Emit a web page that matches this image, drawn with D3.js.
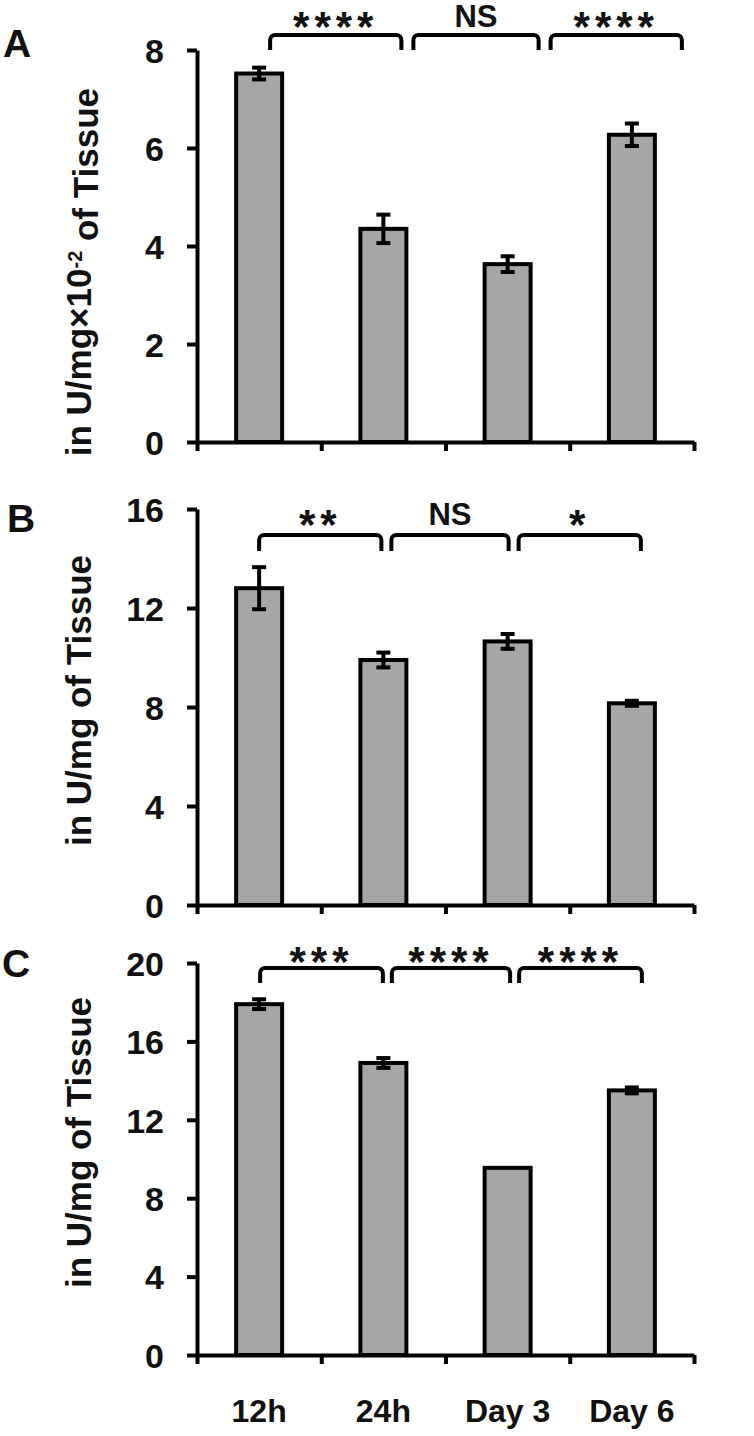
<!DOCTYPE html>
<html>
<head>
<meta charset="utf-8">
<script src="https://cdn.jsdelivr.net/npm/d3@7"></script>
<style>
  html, body { margin: 0; padding: 0; background: #fff; }
  svg { display: block; }
  text { font-family: "Liberation Sans", Arial, sans-serif; font-weight: bold; fill: #111; }
</style>
</head>
<body>
<div id="chart"></div>
<script>
// ---- data ----
const categories = ['12h', '24h', 'Day 3', 'Day 6'];

const valuesA = [7.52, 4.35, 3.63, 6.27];
const errorsA = [0.12, 0.29, 0.16, 0.23];
const ticksA = [0, 2, 4, 6, 8];
const sigA = ['****', 'NS', '****'];

const valuesB = [12.8, 9.9, 10.65, 8.15];
const errorsB = [0.85, 0.3, 0.3, 0.1];
const ticksB = [0, 4, 8, 12, 16];
const sigB = ['**', 'NS', '*'];

const valuesC = [17.9, 14.9, 9.55, 13.5];
const errorsC = [0.25, 0.25, 0, 0.15];
const ticksC = [0, 4, 8, 12, 16, 20];
const sigC = ['***', '****', '****'];

const letters = ['A', 'B', 'C'];

// ---- layout (pixels) ----
const width = 754, height = 1436;
const xLeft = 197, xRight = 694;
const panels = [
  { letter: letters[0], values: valuesA, errors: errorsA, ticks: ticksA, sig: sigA,
    top: 50, bottom: 442, labelY: 57, labelX: 3, titleEnd: 88,
    brTop: 35, brLeg: 50, brStart: 11, brEnd: 50, brGap: 12, textGap: 8, sup: true },
  { letter: letters[1], values: valuesB, errors: errorsB, ticks: ticksB, sig: sigB,
    top: 509, bottom: 905, labelY: 532, labelX: 7, titleEnd: 555,
    brTop: 535, brLeg: 551, brStart: 0, brEnd: 9, brGap: 10, textGap: 10, sup: false },
  { letter: letters[2], values: valuesC, errors: errorsC, ticks: ticksC, sig: sigC,
    top: 963, bottom: 1355, labelY: 977, labelX: 2, titleEnd: 997,
    brTop: 968, brLeg: 983, brStart: 1, brEnd: 10, brGap: 9, textGap: 6, sup: false }
];

const svg = d3.select('#chart').append('svg')
  .attr('width', width)
  .attr('height', height);

const x = d3.scaleBand()
  .domain(categories)
  .range([xLeft, xRight])
  .paddingInner(0)
  .paddingOuter(0);
const xEdge = d3.scaleLinear().domain([0, categories.length]).range([xLeft, xRight]);
const barW = 46;

panels.forEach((p) => {
  const yMax = p.ticks[p.ticks.length - 1];
  const y = d3.scaleLinear().domain([0, yMax]).range([p.bottom, p.top]);
  const g = svg.append('g').attr('class', 'panel-' + p.letter);

  // bars
  g.selectAll('rect.bar')
    .data(p.values)
    .enter()
    .append('rect')
      .attr('class', 'bar')
      .attr('x', (d, i) => x(categories[i]) + x.bandwidth() / 2 - barW / 2)
      .attr('y', d => y(d))
      .attr('width', barW)
      .attr('height', d => y(0) - y(d))
      .style('fill', '#a6a6a6')
      .style('stroke', '#000')
      .style('stroke-width', 4);

  // error bars
  const eb = g.selectAll('g.err')
    .data(p.values.map((v, i) => ({ v: v, e: p.errors[i], c: categories[i] })).filter(d => d.e > 0))
    .enter()
    .append('g')
      .attr('class', 'err')
      .attr('transform', d => 'translate(' + (x(d.c) + x.bandwidth() / 2) + ',0)');
  eb.append('line')
    .attr('y1', d => y(d.v - d.e)).attr('y2', d => y(d.v + d.e))
    .style('stroke', '#000').style('stroke-width', 4);
  [-1, 1].forEach(s => {
    eb.append('line')
      .attr('x1', -7).attr('x2', 7)
      .attr('y1', d => y(d.v + s * d.e)).attr('y2', d => y(d.v + s * d.e))
      .style('stroke', '#000').style('stroke-width', 4);
  });

  // y axis
  const ya = g.append('g')
    .attr('transform', 'translate(' + xLeft + ',0)')
    .call(d3.axisLeft(y).tickValues(p.ticks).tickSize(10).tickSizeOuter(0).tickPadding(23));
  ya.select('.domain').style('stroke', '#000').style('stroke-width', 4);
  ya.selectAll('.tick line').style('stroke', '#000').style('stroke-width', 4);
  ya.selectAll('.tick text').style('font-size', '34px').style('font-family', null).attr('fill', '#111').attr('dy', '0.36em');

  // x axis
  const xa = g.append('g')
    .attr('transform', 'translate(0,' + p.bottom + ')')
    .call(d3.axisBottom(xEdge).tickValues(d3.range(categories.length + 1)).tickFormat('').tickSize(9).tickSizeOuter(0));
  xa.select('.domain').style('stroke', '#000').style('stroke-width', 4);
  xa.selectAll('.tick line').style('stroke', '#000').style('stroke-width', 4);

  // panel letter
  g.append('text')
    .attr('x', p.labelX)
    .attr('y', p.labelY)
    .style('font-size', '39px')
    .text(p.letter);

  // y title
  const title = g.append('text')
    .attr('transform', 'translate(91,' + p.titleEnd + ') rotate(-90)')
    .attr('text-anchor', 'end')
    .style('font-size', '35px');
  if (p.sup) {
    title.append('tspan').text('in U/mg\u00d710');
    title.append('tspan').attr('dy', '-0.45em').style('font-size', '20px').text('-2');
    title.append('tspan').attr('dy', '0.45em').text(' of Tissue');
  } else {
    title.text('in U/mg of Tissue');
  }

  // significance brackets
  const bs = d3.scaleLinear().domain([0, categories.length - 1])
    .range([x(categories[0]) + x.bandwidth() / 2 + p.brStart, x(categories[categories.length - 1]) + x.bandwidth() / 2 + p.brEnd]);
  const r = 5;
  p.sig.forEach((s, i) => {
    const x1 = bs(i) + (i === 0 ? 0 : p.brGap / 2);
    const x2 = bs(i + 1) - (i === p.sig.length - 1 ? 0 : p.brGap / 2);
    const path = d3.path();
    path.moveTo(x1, p.brLeg);
    path.lineTo(x1, p.brTop + r);
    path.arcTo(x1, p.brTop, x1 + r, p.brTop, r);
    path.lineTo(x2 - r, p.brTop);
    path.arcTo(x2, p.brTop, x2, p.brTop + r, r);
    path.lineTo(x2, p.brLeg);
    g.append('path')
      .attr('d', path.toString())
      .style('fill', 'none')
      .style('stroke', '#000')
      .style('stroke-width', 4);

    const isStar = s.indexOf('*') === 0;
    g.append('text')
      .attr('x', (x1 + x2) / 2)
      .attr('y', isStar ? p.brTop - p.textGap + 14 : p.brTop - p.textGap)
      .attr('text-anchor', 'middle')
      .style('font-size', isStar ? '42px' : '31px')
      .style('letter-spacing', isStar ? '5px' : null)
      .text(s);
  });
});

// category labels under the last panel
svg.append('g').selectAll('text')
  .data(categories)
  .enter()
  .append('text')
    .attr('x', d => x(d) + x.bandwidth() / 2)
    .attr('y', 1422)
    .attr('text-anchor', 'middle')
    .style('font-size', '32px')
    .text(d => d);
</script>
</body>
</html>
